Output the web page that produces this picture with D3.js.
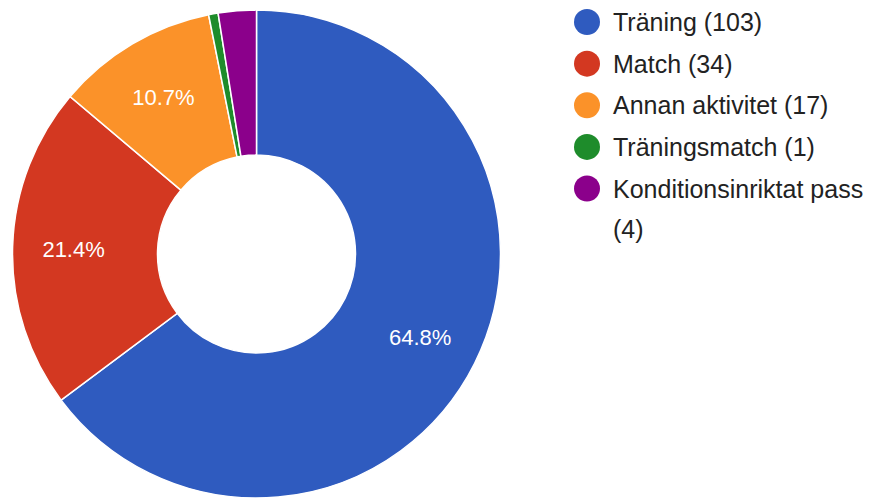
<!DOCTYPE html>
<html>
<head>
<meta charset="utf-8">
<script src="https://cdn.jsdelivr.net/npm/d3@7"></script>
<style>
  body { margin: 0; background: #fff; }
  svg { display: block; font-family: "Liberation Sans", Arial, Helvetica, sans-serif; }
</style>
</head>
<body>
<svg id="drawing_region"></svg>
<script>
const categories = ["Träning", "Match", "Annan aktivitet", "Träningsmatch", "Konditionsinriktat pass"];
const counts = [103, 34, 17, 1, 4];
const colors = ["#2f5bbf", "#d33821", "#fb9229", "#1e8c2b", "#8b008b"];

class DonutChart {
    constructor( config, data ) {
        this.config = {
            parent: config.parent,
            width: config.width || 872,
            height: config.height || 499,
            cx: config.cx,
            cy: config.cy,
            radius: config.radius,
            inner: config.inner,
            labelRadius: config.labelRadius
        };
        this.data = data;
        this.init();
    }

    init() {
        let self = this;

        self.svg = d3.select( self.config.parent )
            .attr('width', self.config.width)
            .attr('height', self.config.height);

        self.chart = self.svg.append('g')
            .attr('transform', `translate(${self.config.cx}, ${self.config.cy})`);

        self.pie = d3.pie()
            .sort(null)
            .value( d => d.value );

        self.arc = d3.arc()
            .innerRadius(self.config.inner)
            .outerRadius(self.config.radius);

        self.labelArc = d3.arc()
            .innerRadius(self.config.labelRadius)
            .outerRadius(self.config.labelRadius);

        self.color = d3.scaleOrdinal()
            .domain(categories)
            .range(colors);

        self.total = d3.sum(self.data, d => d.value);
    }

    update() {
        this.render();
    }

    render() {
        let self = this;
        const arcs = self.pie(self.data);

        self.chart.selectAll('path')
            .data(arcs)
            .join('path')
            .attr('d', self.arc)
            .attr('fill', d => self.color(d.data.label))
            .attr('stroke', 'white')
            .style('stroke-width', '1.5px');

        // only slices big enough get a percentage
        self.chart.selectAll('text.pct')
            .data(arcs.filter(d => d.data.value / self.total > 0.05))
            .join('text')
            .attr('class', 'pct')
            .attr('transform', d => `translate(${self.labelArc.centroid(d)})`)
            .attr('dy', '0.4em')
            .attr('text-anchor', 'middle')
            .attr('fill', 'white')
            .style('font-size', '22px')
            .text(d => (d.data.value / self.total * 100).toFixed(1) + '%');

        // legend
        const legend = self.svg.append('g')
            .attr('transform', 'translate(587, 22)');

        const rowY = d3.scalePoint()
            .domain(categories)
            .range([0, 166.5]);

        const items = legend.selectAll('g')
            .data(self.data)
            .join('g')
            .attr('transform', d => `translate(0, ${rowY(d.label)})`);

        items.append('circle')
            .attr('r', 13)
            .attr('fill', d => self.color(d.label));

        const maxWidth = 872 - 613 - 2;
        items.append('text')
            .attr('x', 26)
            .attr('dy', '0.36em')
            .attr('fill', '#222')
            .style('font-size', '25px')
            .each(function(d) {
                const el = d3.select(this);
                const words = `${d.label} (${d.value})`.split(' ');
                let line = [];
                let ts = el.append('tspan').attr('x', 26);
                words.forEach(w => {
                    line.push(w);
                    ts.text(line.join(' '));
                    if (ts.node().getComputedTextLength() > maxWidth && line.length > 1) {
                        line.pop();
                        ts.text(line.join(' '));
                        line = [w];
                        ts = el.append('tspan').attr('x', 26).attr('dy', '1.62em').text(w);
                    }
                });
            });
    }
}

const data = categories.map((c, i) => ({ label: c, value: counts[i] }));

const chart = new DonutChart({
    parent: '#drawing_region',
    width: 872,
    height: 499,
    cx: 256.5,
    cy: 254,
    radius: 244,
    inner: 99,
    labelRadius: 183
}, data);
chart.update();
</script>
</body>
</html>
